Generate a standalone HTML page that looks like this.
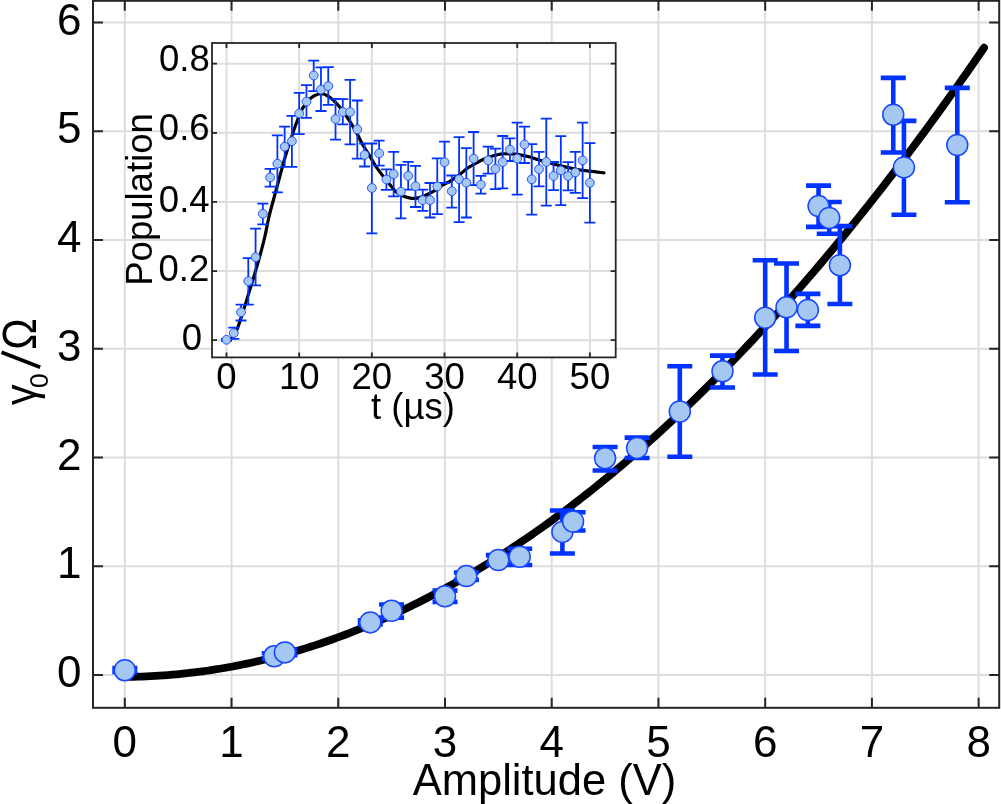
<!DOCTYPE html><html><head><meta charset="utf-8"><style>html,body{margin:0;padding:0;background:#fff;overflow:hidden}svg{display:block;will-change:transform}text{font-family:"Liberation Sans",sans-serif;fill:#000}</style></head><body>
<svg width="1001" height="804" viewBox="0 0 1001 804">
<rect width="1001" height="804" fill="#fff"/>
<path d="M124.80 0.8V707.8M231.53 0.8V707.8M338.26 0.8V707.8M444.99 0.8V707.8M551.72 0.8V707.8M658.45 0.8V707.8M765.18 0.8V707.8M871.91 0.8V707.8M978.64 0.8V707.8M93.0 675.00H999.2M93.0 566.25H999.2M93.0 457.50H999.2M93.0 348.75H999.2M93.0 240.00H999.2M93.0 131.25H999.2M93.0 22.50H999.2" stroke="#dddddd" stroke-width="2" fill="none"/>
<rect x="93.0" y="0.8" width="906.20" height="707.00" fill="none" stroke="#262626" stroke-width="2"/>
<path d="M124.80 707.8v-10M124.80 0.8v10M231.53 707.8v-10M231.53 0.8v10M338.26 707.8v-10M338.26 0.8v10M444.99 707.8v-10M444.99 0.8v10M551.72 707.8v-10M551.72 0.8v10M658.45 707.8v-10M658.45 0.8v10M765.18 707.8v-10M765.18 0.8v10M871.91 707.8v-10M871.91 0.8v10M978.64 707.8v-10M978.64 0.8v10M93.0 675.00h10M999.2 675.00h-10M93.0 566.25h10M999.2 566.25h-10M93.0 457.50h10M999.2 457.50h-10M93.0 348.75h10M999.2 348.75h-10M93.0 240.00h10M999.2 240.00h-10M93.0 131.25h10M999.2 131.25h-10M93.0 22.50h10M999.2 22.50h-10" stroke="#262626" stroke-width="2" fill="none"/>
<text x="124.80" y="757" font-size="44" text-anchor="middle">0</text>
<text x="231.53" y="757" font-size="44" text-anchor="middle">1</text>
<text x="338.26" y="757" font-size="44" text-anchor="middle">2</text>
<text x="444.99" y="757" font-size="44" text-anchor="middle">3</text>
<text x="551.72" y="757" font-size="44" text-anchor="middle">4</text>
<text x="658.45" y="757" font-size="44" text-anchor="middle">5</text>
<text x="765.18" y="757" font-size="44" text-anchor="middle">6</text>
<text x="871.91" y="757" font-size="44" text-anchor="middle">7</text>
<text x="978.64" y="757" font-size="44" text-anchor="middle">8</text>
<text x="81.5" y="687.00" font-size="44" text-anchor="end">0</text>
<text x="81.5" y="578.25" font-size="44" text-anchor="end">1</text>
<text x="81.5" y="469.50" font-size="44" text-anchor="end">2</text>
<text x="81.5" y="360.75" font-size="44" text-anchor="end">3</text>
<text x="81.5" y="252.00" font-size="44" text-anchor="end">4</text>
<text x="81.5" y="143.25" font-size="44" text-anchor="end">5</text>
<text x="81.5" y="34.50" font-size="44" text-anchor="end">6</text>
<text x="544.5" y="795" font-size="43.5" text-anchor="middle">Amplitude (V)</text>
<g transform="translate(36.1,405) rotate(-90)"><text transform="translate(-0.2,-0.5) scale(0.95,1)" font-size="44">&#947;</text><text x="16.9" y="11.6" font-size="26.4">0</text><text transform="translate(55.3,0) scale(0.89,1)" font-size="47.3">&#937;</text></g>
<line x1="40.2" y1="367.3" x2="1.5" y2="352.2" stroke="#000" stroke-width="3.9"/>
<path d="M124.80 676.86 L129.12 676.83 L133.44 676.76 L137.75 676.66 L142.07 676.53 L146.39 676.36 L150.71 676.17 L155.03 675.94 L159.34 675.68 L163.66 675.39 L167.98 675.07 L172.30 674.72 L176.62 674.33 L180.93 673.92 L185.25 673.47 L189.57 672.99 L193.89 672.48 L198.21 671.94 L202.52 671.37 L206.84 670.76 L211.16 670.12 L215.48 669.46 L219.80 668.76 L224.11 668.02 L228.43 667.26 L232.75 666.47 L237.07 665.64 L241.39 664.78 L245.70 663.89 L250.02 662.97 L254.34 662.02 L258.66 661.04 L262.98 660.02 L267.29 658.97 L271.61 657.89 L275.93 656.78 L280.25 655.64 L284.57 654.47 L288.88 653.26 L293.20 652.03 L297.52 650.76 L301.84 649.46 L306.16 648.13 L310.47 646.77 L314.79 645.37 L319.11 643.95 L323.43 642.49 L327.75 641.00 L332.06 639.48 L336.38 637.93 L340.70 636.34 L345.02 634.73 L349.34 633.08 L353.65 631.40 L357.97 629.69 L362.29 627.95 L366.61 626.18 L370.93 624.37 L375.24 622.54 L379.56 620.67 L383.88 618.77 L388.20 616.84 L392.52 614.88 L396.83 612.88 L401.15 610.86 L405.47 608.80 L409.79 606.71 L414.11 604.59 L418.42 602.44 L422.74 600.26 L427.06 598.04 L431.38 595.80 L435.70 593.52 L440.01 591.21 L444.33 588.87 L448.65 586.50 L452.97 584.09 L457.29 581.66 L461.60 579.19 L465.92 576.69 L470.24 574.16 L474.56 571.60 L478.88 569.00 L483.19 566.38 L487.51 563.72 L491.83 561.03 L496.15 558.31 L500.47 555.56 L504.78 552.78 L509.10 549.96 L513.42 547.12 L517.74 544.24 L522.06 541.33 L526.37 538.39 L530.69 535.42 L535.01 532.42 L539.33 529.38 L543.65 526.31 L547.96 523.21 L552.28 520.08 L556.60 516.92 L560.92 513.73 L565.24 510.50 L569.55 507.25 L573.87 503.96 L578.19 500.64 L582.51 497.29 L586.83 493.91 L591.14 490.49 L595.46 487.05 L599.78 483.57 L604.10 480.06 L608.42 476.52 L612.73 472.95 L617.05 469.35 L621.37 465.71 L625.69 462.04 L630.01 458.35 L634.32 454.62 L638.64 450.85 L642.96 447.06 L647.28 443.24 L651.60 439.38 L655.91 435.49 L660.23 431.57 L664.55 427.62 L668.87 423.64 L673.19 419.63 L677.50 415.58 L681.82 411.51 L686.14 407.40 L690.46 403.26 L694.78 399.09 L699.09 394.88 L703.41 390.65 L707.73 386.38 L712.05 382.08 L716.37 377.75 L720.68 373.39 L725.00 369.00 L729.32 364.58 L733.64 360.12 L737.96 355.63 L742.27 351.11 L746.59 346.56 L750.91 341.98 L755.23 337.37 L759.55 332.72 L763.86 328.05 L768.18 323.34 L772.50 318.60 L776.82 313.83 L781.14 309.03 L785.45 304.19 L789.77 299.33 L794.09 294.43 L798.41 289.50 L802.73 284.54 L807.04 279.55 L811.36 274.52 L815.68 269.47 L820.00 264.38 L824.32 259.26 L828.64 254.11 L832.95 248.93 L837.27 243.72 L841.59 238.47 L845.91 233.20 L850.23 227.89 L854.54 222.55 L858.86 217.18 L863.18 211.78 L867.50 206.34 L871.82 200.88 L876.13 195.38 L880.45 189.85 L884.77 184.29 L889.09 178.70 L893.41 173.07 L897.72 167.42 L902.04 161.73 L906.36 156.02 L910.68 150.27 L915.00 144.48 L919.31 138.67 L923.63 132.83 L927.95 126.95 L932.27 121.04 L936.59 115.11 L940.90 109.13 L945.22 103.13 L949.54 97.10 L953.86 91.03 L958.18 84.94 L962.49 78.81 L966.81 72.65 L971.13 66.46 L975.45 60.23 L979.77 53.98 L984.08 47.69" stroke="#000" stroke-width="7.8" fill="none" stroke-linecap="round" stroke-linejoin="round"/>
<path d="M124.80 668.00V672.00M112.30 668.00h25M112.30 672.00h25M274.22 653.30V658.70M261.72 653.30h25M261.72 658.70h25M284.89 649.60V655.30M272.39 649.60h25M272.39 655.30h25M370.28 620.40V624.40M357.78 620.40h25M357.78 624.40h25M391.62 604.50V617.60M379.12 604.50h25M379.12 617.60h25M444.99 590.60V601.90M432.49 590.60h25M432.49 601.90h25M466.34 572.50V579.90M453.84 572.50h25M453.84 579.90h25M498.36 555.10V564.10M485.86 555.10h25M485.86 564.10h25M519.70 548.80V565.00M507.20 548.80h25M507.20 565.00h25M562.39 510.50V553.50M549.89 510.50h25M549.89 553.50h25M573.07 512.30V530.50M560.57 512.30h25M560.57 530.50h25M605.09 447.00V470.50M592.59 447.00h25M592.59 470.50h25M637.10 437.60V458.00M624.60 437.60h25M624.60 458.00h25M679.80 366.20V456.80M667.30 366.20h25M667.30 456.80h25M722.49 355.60V387.50M709.99 355.60h25M709.99 387.50h25M765.18 260.20V374.50M752.68 260.20h25M752.68 374.50h25M786.53 263.50V351.00M774.03 263.50h25M774.03 351.00h25M807.87 293.90V325.90M795.37 293.90h25M795.37 325.90h25M818.54 185.60V226.90M806.04 185.60h25M806.04 226.90h25M829.22 202.00V233.70M816.72 202.00h25M816.72 233.70h25M839.89 226.10V304.00M827.39 226.10h25M827.39 304.00h25M893.26 77.90V152.50M880.76 77.90h25M880.76 152.50h25M903.93 120.90V214.70M891.43 120.90h25M891.43 214.70h25M957.29 87.90V202.30M944.79 87.90h25M944.79 202.30h25" stroke="#0033ff" stroke-width="4.6" fill="none"/>
<circle cx="124.80" cy="670.20" r="10.5" fill="#a4c8f2" stroke="#1846ff" stroke-width="1.5"/>
<circle cx="274.22" cy="656.30" r="10.5" fill="#a4c8f2" stroke="#1846ff" stroke-width="1.5"/>
<circle cx="284.89" cy="652.40" r="10.5" fill="#a4c8f2" stroke="#1846ff" stroke-width="1.5"/>
<circle cx="370.28" cy="622.40" r="10.5" fill="#a4c8f2" stroke="#1846ff" stroke-width="1.5"/>
<circle cx="391.62" cy="610.80" r="10.5" fill="#a4c8f2" stroke="#1846ff" stroke-width="1.5"/>
<circle cx="444.99" cy="596.30" r="10.5" fill="#a4c8f2" stroke="#1846ff" stroke-width="1.5"/>
<circle cx="466.34" cy="576.10" r="10.5" fill="#a4c8f2" stroke="#1846ff" stroke-width="1.5"/>
<circle cx="498.36" cy="560.00" r="10.5" fill="#a4c8f2" stroke="#1846ff" stroke-width="1.5"/>
<circle cx="519.70" cy="556.70" r="10.5" fill="#a4c8f2" stroke="#1846ff" stroke-width="1.5"/>
<circle cx="562.39" cy="531.90" r="10.5" fill="#a4c8f2" stroke="#1846ff" stroke-width="1.5"/>
<circle cx="573.07" cy="521.50" r="10.5" fill="#a4c8f2" stroke="#1846ff" stroke-width="1.5"/>
<circle cx="605.09" cy="458.20" r="10.5" fill="#a4c8f2" stroke="#1846ff" stroke-width="1.5"/>
<circle cx="637.10" cy="447.90" r="10.5" fill="#a4c8f2" stroke="#1846ff" stroke-width="1.5"/>
<circle cx="679.80" cy="411.50" r="10.5" fill="#a4c8f2" stroke="#1846ff" stroke-width="1.5"/>
<circle cx="722.49" cy="371.30" r="10.5" fill="#a4c8f2" stroke="#1846ff" stroke-width="1.5"/>
<circle cx="765.18" cy="317.70" r="10.5" fill="#a4c8f2" stroke="#1846ff" stroke-width="1.5"/>
<circle cx="786.53" cy="307.30" r="10.5" fill="#a4c8f2" stroke="#1846ff" stroke-width="1.5"/>
<circle cx="807.87" cy="310.00" r="10.5" fill="#a4c8f2" stroke="#1846ff" stroke-width="1.5"/>
<circle cx="818.54" cy="206.10" r="10.5" fill="#a4c8f2" stroke="#1846ff" stroke-width="1.5"/>
<circle cx="829.22" cy="217.90" r="10.5" fill="#a4c8f2" stroke="#1846ff" stroke-width="1.5"/>
<circle cx="839.89" cy="265.20" r="10.5" fill="#a4c8f2" stroke="#1846ff" stroke-width="1.5"/>
<circle cx="893.26" cy="114.70" r="10.5" fill="#a4c8f2" stroke="#1846ff" stroke-width="1.5"/>
<circle cx="903.93" cy="167.40" r="10.5" fill="#a4c8f2" stroke="#1846ff" stroke-width="1.5"/>
<circle cx="957.29" cy="145.00" r="10.5" fill="#a4c8f2" stroke="#1846ff" stroke-width="1.5"/>
<rect x="212.0" y="43.0" width="403.70000000000005" height="314.4" fill="#fff"/>
<path d="M226.50 43.0V357.4M299.18 43.0V357.4M371.86 43.0V357.4M444.54 43.0V357.4M517.22 43.0V357.4M589.90 43.0V357.4M212.0 340.20H615.7M212.0 271.08H615.7M212.0 201.96H615.7M212.0 132.84H615.7M212.0 63.72H615.7" stroke="#dddddd" stroke-width="2" fill="none"/>
<rect x="212.0" y="43.0" width="403.70000000000005" height="314.4" fill="none" stroke="#262626" stroke-width="1.8"/>
<path d="M226.50 357.4v-5M226.50 43.0v5M299.18 357.4v-5M299.18 43.0v5M371.86 357.4v-5M371.86 43.0v5M444.54 357.4v-5M444.54 43.0v5M517.22 357.4v-5M517.22 43.0v5M589.90 357.4v-5M589.90 43.0v5M212.0 340.20h5M615.7 340.20h-5M212.0 271.08h5M615.7 271.08h-5M212.0 201.96h5M615.7 201.96h-5M212.0 132.84h5M615.7 132.84h-5M212.0 63.72h5M615.7 63.72h-5" stroke="#262626" stroke-width="1.8" fill="none"/>
<text x="226.50" y="389" font-size="36.5" text-anchor="middle">0</text>
<text x="299.18" y="389" font-size="36.5" text-anchor="middle">10</text>
<text x="371.86" y="389" font-size="36.5" text-anchor="middle">20</text>
<text x="444.54" y="389" font-size="36.5" text-anchor="middle">30</text>
<text x="517.22" y="389" font-size="36.5" text-anchor="middle">40</text>
<text x="589.90" y="389" font-size="36.5" text-anchor="middle">50</text>
<text x="202.1" y="350.15" font-size="36.5" text-anchor="end">0</text>
<text x="209.3" y="281.4" font-size="36.5" text-anchor="end">0.2</text>
<text x="209.6" y="212.05" font-size="36.5" text-anchor="end">0.4</text>
<text x="209.6" y="140.2" font-size="36.5" text-anchor="end">0.6</text>
<text x="209.8" y="70.9" font-size="36.5" text-anchor="end">0.8</text>
<text x="413" y="419.4" font-size="36.5" text-anchor="middle">t (&#181;s)</text>
<text transform="translate(152.4,199.5) rotate(-90)" font-size="36.5" text-anchor="middle">Population</text>
<path d="M226.50 340.40C227.25 340.08 229.67 339.48 231.00 338.50C232.33 337.52 233.35 336.40 234.50 334.50C235.65 332.60 236.38 331.18 237.90 327.10C239.42 323.02 241.70 315.95 243.60 310.00C245.50 304.05 247.40 297.58 249.30 291.40C251.20 285.22 253.10 279.32 255.00 272.90C256.90 266.48 259.03 259.05 260.70 252.90C262.37 246.75 263.63 241.97 265.00 236.00C266.37 230.03 267.43 223.35 268.90 217.10C270.37 210.85 272.18 204.52 273.80 198.50C275.42 192.48 276.97 187.02 278.60 181.00C280.23 174.98 282.15 167.57 283.60 162.40C285.05 157.23 285.50 155.65 287.30 150.00C289.10 144.35 292.58 133.77 294.40 128.50C296.22 123.23 296.87 121.72 298.20 118.40C299.53 115.08 300.65 111.63 302.40 108.60C304.15 105.57 306.83 102.27 308.70 100.20C310.57 98.13 311.95 97.23 313.60 96.20C315.25 95.17 316.93 94.37 318.60 94.00C320.27 93.63 321.95 93.58 323.60 94.00C325.25 94.42 326.85 95.45 328.50 96.50C330.15 97.55 331.42 98.32 333.50 100.30C335.58 102.28 338.80 105.70 341.00 108.40C343.20 111.10 344.82 113.67 346.70 116.50C348.58 119.33 350.42 122.23 352.30 125.40C354.18 128.57 356.18 132.15 358.00 135.50C359.82 138.85 361.33 142.23 363.20 145.50C365.07 148.77 367.33 152.00 369.20 155.10C371.07 158.20 372.67 161.35 374.40 164.10C376.13 166.85 377.85 169.23 379.60 171.60C381.35 173.97 383.03 175.95 384.90 178.30C386.77 180.65 388.97 183.45 390.80 185.70C392.63 187.95 393.88 190.07 395.90 191.80C397.92 193.53 400.28 195.02 402.90 196.10C405.52 197.18 409.00 198.00 411.60 198.30C414.20 198.60 416.18 198.40 418.50 197.90C420.82 197.40 422.88 196.47 425.50 195.30C428.12 194.13 431.30 192.65 434.20 190.90C437.10 189.15 440.27 186.40 442.90 184.80C445.53 183.20 447.37 182.88 450.00 181.30C452.63 179.72 455.80 177.47 458.70 175.30C461.60 173.13 464.50 170.33 467.40 168.30C470.30 166.27 473.20 164.70 476.10 163.10C479.00 161.50 481.90 159.93 484.80 158.70C487.70 157.47 490.60 156.50 493.50 155.70C496.40 154.90 499.30 154.20 502.20 153.90C505.10 153.60 508.00 153.75 510.90 153.90C513.80 154.05 516.42 154.28 519.60 154.80C522.78 155.32 526.95 156.20 530.00 157.00C533.05 157.80 533.73 158.37 537.90 159.60C542.07 160.83 548.83 162.83 555.00 164.40C561.17 165.97 569.10 167.87 574.90 169.00C580.70 170.13 584.95 170.57 589.80 171.20C594.65 171.83 601.63 172.53 604.00 172.80" stroke="#000" stroke-width="3.2" fill="none" stroke-linecap="round" stroke-linejoin="round"/>
<path d="M226.50 338.80V340.80M221.00 338.80h11M221.00 340.80h11M233.77 327.70V338.90M228.27 327.70h11M228.27 338.90h11M241.04 304.70V320.50M235.54 304.70h11M235.54 320.50h11M248.30 258.10V304.70M242.80 258.10h11M242.80 304.70h11M255.57 228.70V285.40M250.07 228.70h11M250.07 285.40h11M262.84 203.70V224.40M257.34 203.70h11M257.34 224.40h11M270.11 168.90V186.70M264.61 168.90h11M264.61 186.70h11M277.38 135.30V192.30M271.88 135.30h11M271.88 192.30h11M284.64 126.60V166.90M279.14 126.60h11M279.14 166.90h11M291.91 115.90V166.90M286.41 115.90h11M286.41 166.90h11M299.18 92.90V134.20M293.68 92.90h11M293.68 134.20h11M306.45 85.10V117.80M300.95 85.10h11M300.95 117.80h11M313.72 60.60V91.10M308.22 60.60h11M308.22 91.10h11M320.98 67.40V111.00M315.48 67.40h11M315.48 111.00h11M328.25 67.10V104.80M322.75 67.10h11M322.75 104.80h11M335.52 98.80V139.60M330.02 98.80h11M330.02 139.60h11M342.79 99.20V124.40M337.29 99.20h11M337.29 124.40h11M350.06 79.90V144.30M344.56 79.90h11M344.56 144.30h11M357.32 100.50V158.70M351.82 100.50h11M351.82 158.70h11M364.59 143.50V166.50M359.09 143.50h11M359.09 166.50h11M371.86 143.50V233.30M366.36 143.50h11M366.36 233.30h11M379.13 140.70V165.60M373.63 140.70h11M373.63 165.60h11M386.40 169.30V189.80M380.90 169.30h11M380.90 189.80h11M393.66 151.90V196.40M388.16 151.90h11M388.16 196.40h11M400.93 164.90V218.40M395.43 164.90h11M395.43 218.40h11M408.20 161.80V189.60M402.70 161.80h11M402.70 189.60h11M415.47 165.90V207.00M409.97 165.90h11M409.97 207.00h11M422.74 189.60V210.80M417.24 189.60h11M417.24 210.80h11M430.00 183.00V217.50M424.50 183.00h11M424.50 217.50h11M437.27 158.40V214.20M431.77 158.40h11M431.77 214.20h11M444.54 141.60V183.00M439.04 141.60h11M439.04 183.00h11M451.81 175.50V207.70M446.31 175.50h11M446.31 207.70h11M459.08 137.10V222.10M453.58 137.10h11M453.58 222.10h11M466.34 148.10V217.50M460.84 148.10h11M460.84 217.50h11M473.61 132.00V185.10M468.11 132.00h11M468.11 185.10h11M480.88 175.80V193.60M475.38 175.80h11M475.38 193.60h11M488.15 146.70V173.70M482.65 146.70h11M482.65 173.70h11M495.42 148.60V189.20M489.92 148.60h11M489.92 189.20h11M502.68 136.00V188.40M497.18 136.00h11M497.18 188.40h11M509.95 138.30V161.00M504.45 138.30h11M504.45 161.00h11M517.22 122.60V194.70M511.72 122.60h11M511.72 194.70h11M524.49 126.70V163.00M518.99 126.70h11M518.99 163.00h11M531.76 144.10V214.60M526.26 144.10h11M526.26 214.60h11M539.02 151.80V186.30M533.52 151.80h11M533.52 186.30h11M546.29 118.60V205.60M540.79 118.60h11M540.79 205.60h11M553.56 162.00V190.20M548.06 162.00h11M548.06 190.20h11M560.83 136.10V205.20M555.33 136.10h11M555.33 205.20h11M568.10 162.20V190.30M562.60 162.20h11M562.60 190.30h11M575.36 151.80V192.80M569.86 151.80h11M569.86 192.80h11M582.63 122.70V198.10M577.13 122.70h11M577.13 198.10h11M589.90 143.10V222.70M584.40 143.10h11M584.40 222.70h11" stroke="#0033ff" stroke-width="1.8" fill="none"/>
<circle cx="226.50" cy="339.80" r="4.4" fill="#a4c8f2" stroke="#1846ff" stroke-width="0.9"/>
<circle cx="233.77" cy="333.10" r="4.4" fill="#a4c8f2" stroke="#1846ff" stroke-width="0.9"/>
<circle cx="241.04" cy="312.20" r="4.4" fill="#a4c8f2" stroke="#1846ff" stroke-width="0.9"/>
<circle cx="248.30" cy="281.10" r="4.4" fill="#a4c8f2" stroke="#1846ff" stroke-width="0.9"/>
<circle cx="255.57" cy="257.20" r="4.4" fill="#a4c8f2" stroke="#1846ff" stroke-width="0.9"/>
<circle cx="262.84" cy="213.80" r="4.4" fill="#a4c8f2" stroke="#1846ff" stroke-width="0.9"/>
<circle cx="270.11" cy="177.40" r="4.4" fill="#a4c8f2" stroke="#1846ff" stroke-width="0.9"/>
<circle cx="277.38" cy="163.70" r="4.4" fill="#a4c8f2" stroke="#1846ff" stroke-width="0.9"/>
<circle cx="284.64" cy="146.70" r="4.4" fill="#a4c8f2" stroke="#1846ff" stroke-width="0.9"/>
<circle cx="291.91" cy="141.20" r="4.4" fill="#a4c8f2" stroke="#1846ff" stroke-width="0.9"/>
<circle cx="299.18" cy="113.50" r="4.4" fill="#a4c8f2" stroke="#1846ff" stroke-width="0.9"/>
<circle cx="306.45" cy="101.60" r="4.4" fill="#a4c8f2" stroke="#1846ff" stroke-width="0.9"/>
<circle cx="313.72" cy="75.50" r="4.4" fill="#a4c8f2" stroke="#1846ff" stroke-width="0.9"/>
<circle cx="320.98" cy="89.60" r="4.4" fill="#a4c8f2" stroke="#1846ff" stroke-width="0.9"/>
<circle cx="328.25" cy="86.10" r="4.4" fill="#a4c8f2" stroke="#1846ff" stroke-width="0.9"/>
<circle cx="335.52" cy="119.00" r="4.4" fill="#a4c8f2" stroke="#1846ff" stroke-width="0.9"/>
<circle cx="342.79" cy="112.00" r="4.4" fill="#a4c8f2" stroke="#1846ff" stroke-width="0.9"/>
<circle cx="350.06" cy="112.00" r="4.4" fill="#a4c8f2" stroke="#1846ff" stroke-width="0.9"/>
<circle cx="357.32" cy="129.30" r="4.4" fill="#a4c8f2" stroke="#1846ff" stroke-width="0.9"/>
<circle cx="364.59" cy="154.90" r="4.4" fill="#a4c8f2" stroke="#1846ff" stroke-width="0.9"/>
<circle cx="371.86" cy="188.00" r="4.4" fill="#a4c8f2" stroke="#1846ff" stroke-width="0.9"/>
<circle cx="379.13" cy="153.40" r="4.4" fill="#a4c8f2" stroke="#1846ff" stroke-width="0.9"/>
<circle cx="386.40" cy="179.50" r="4.4" fill="#a4c8f2" stroke="#1846ff" stroke-width="0.9"/>
<circle cx="393.66" cy="174.10" r="4.4" fill="#a4c8f2" stroke="#1846ff" stroke-width="0.9"/>
<circle cx="400.93" cy="191.60" r="4.4" fill="#a4c8f2" stroke="#1846ff" stroke-width="0.9"/>
<circle cx="408.20" cy="175.90" r="4.4" fill="#a4c8f2" stroke="#1846ff" stroke-width="0.9"/>
<circle cx="415.47" cy="186.20" r="4.4" fill="#a4c8f2" stroke="#1846ff" stroke-width="0.9"/>
<circle cx="422.74" cy="200.10" r="4.4" fill="#a4c8f2" stroke="#1846ff" stroke-width="0.9"/>
<circle cx="430.00" cy="200.10" r="4.4" fill="#a4c8f2" stroke="#1846ff" stroke-width="0.9"/>
<circle cx="437.27" cy="186.40" r="4.4" fill="#a4c8f2" stroke="#1846ff" stroke-width="0.9"/>
<circle cx="444.54" cy="162.20" r="4.4" fill="#a4c8f2" stroke="#1846ff" stroke-width="0.9"/>
<circle cx="451.81" cy="191.20" r="4.4" fill="#a4c8f2" stroke="#1846ff" stroke-width="0.9"/>
<circle cx="459.08" cy="179.20" r="4.4" fill="#a4c8f2" stroke="#1846ff" stroke-width="0.9"/>
<circle cx="466.34" cy="182.70" r="4.4" fill="#a4c8f2" stroke="#1846ff" stroke-width="0.9"/>
<circle cx="473.61" cy="158.60" r="4.4" fill="#a4c8f2" stroke="#1846ff" stroke-width="0.9"/>
<circle cx="480.88" cy="184.70" r="4.4" fill="#a4c8f2" stroke="#1846ff" stroke-width="0.9"/>
<circle cx="488.15" cy="160.40" r="4.4" fill="#a4c8f2" stroke="#1846ff" stroke-width="0.9"/>
<circle cx="495.42" cy="168.90" r="4.4" fill="#a4c8f2" stroke="#1846ff" stroke-width="0.9"/>
<circle cx="502.68" cy="162.10" r="4.4" fill="#a4c8f2" stroke="#1846ff" stroke-width="0.9"/>
<circle cx="509.95" cy="149.60" r="4.4" fill="#a4c8f2" stroke="#1846ff" stroke-width="0.9"/>
<circle cx="517.22" cy="158.60" r="4.4" fill="#a4c8f2" stroke="#1846ff" stroke-width="0.9"/>
<circle cx="524.49" cy="144.50" r="4.4" fill="#a4c8f2" stroke="#1846ff" stroke-width="0.9"/>
<circle cx="531.76" cy="179.30" r="4.4" fill="#a4c8f2" stroke="#1846ff" stroke-width="0.9"/>
<circle cx="539.02" cy="169.20" r="4.4" fill="#a4c8f2" stroke="#1846ff" stroke-width="0.9"/>
<circle cx="546.29" cy="161.90" r="4.4" fill="#a4c8f2" stroke="#1846ff" stroke-width="0.9"/>
<circle cx="553.56" cy="176.00" r="4.4" fill="#a4c8f2" stroke="#1846ff" stroke-width="0.9"/>
<circle cx="560.83" cy="170.40" r="4.4" fill="#a4c8f2" stroke="#1846ff" stroke-width="0.9"/>
<circle cx="568.10" cy="176.00" r="4.4" fill="#a4c8f2" stroke="#1846ff" stroke-width="0.9"/>
<circle cx="575.36" cy="172.40" r="4.4" fill="#a4c8f2" stroke="#1846ff" stroke-width="0.9"/>
<circle cx="582.63" cy="160.40" r="4.4" fill="#a4c8f2" stroke="#1846ff" stroke-width="0.9"/>
<circle cx="589.90" cy="182.80" r="4.4" fill="#a4c8f2" stroke="#1846ff" stroke-width="0.9"/>
</svg></body></html>
